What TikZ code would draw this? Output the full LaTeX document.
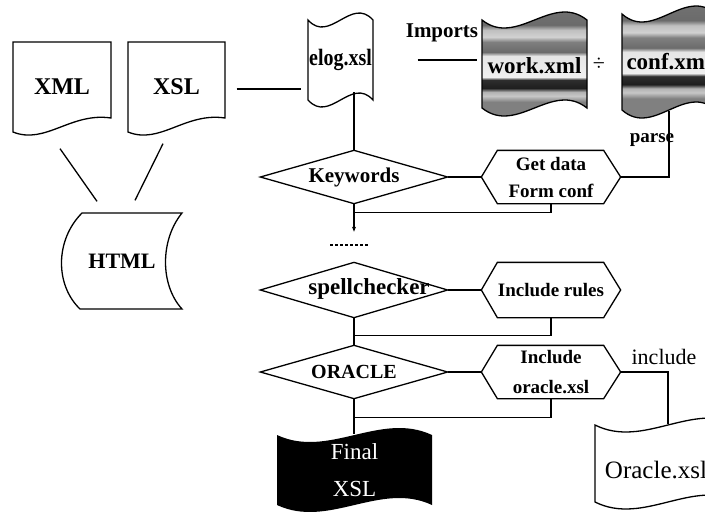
\documentclass[tikz,border=0pt]{standalone}
\usepackage{fontspec}
\setmainfont{Liberation Serif}
\usetikzlibrary{arrows.meta,calc}
\pgfdeclareverticalshading{tapetex}{100bp}{color(0bp)=(black!50); color(34.6bp)=(black!50); color(37.1bp)=(black!22); color(38.75bp)=(black!30); color(40.4bp)=(black!88); color(43.75bp)=(black!82); color(45bp)=(black!6); color(53.75bp)=(black!10); color(55.4bp)=(black!58); color(59.6bp)=(black!50); color(61.7bp)=(black!18); color(64.6bp)=(black!25); color(66.7bp)=(black!58); color(100bp)=(black!45)}
\newcommand{\tapepath}[5]{(#1,#3) .. controls ({#1+(#2-#1)/3},{#3+3.46*#5}) and ({#1+2*(#2-#1)/3},{#3-3.46*#5}) .. (#2,#3) -- (#2,#4) .. controls ({#1+2*(#2-#1)/3},{#4-3.46*#5}) and ({#1+(#2-#1)/3},{#4+3.46*#5}) .. (#1,#4) -- cycle}
\newcommand{\docpath}[5]{(#1,#3) -- (#2,#3) -- (#2,#5) .. controls ({#2-0.41*(#2-#1)},{#5-6}) and ({#1+0.33*(#2-#1)},{#4+13}) .. (#1,#4) -- cycle}
\newcommand{\fsz}[2]{\fontsize{#1pt}{#2pt}\selectfont}
\newcommand{\hexshape}[1]{\draw (#1.west) -- ([xshift=16pt]#1.north west) -- ([xshift=-17pt]#1.north east) -- (#1.east) -- ([xshift=-17pt]#1.south east) -- ([xshift=16pt]#1.south west) -- cycle;}
\newcommand{\diashape}[1]{\draw (#1.west) -- (#1.north) -- (#1.east) -- (#1.south) -- cycle;}
\tikzset{
  box/.style={inner sep=0pt, align=center},
  lbl/.style={inner sep=0pt},
}
\begin{document}
\begin{tikzpicture}[x=1pt,y=-1pt,line width=1.3pt]
\useasboundingbox (0,0) rectangle (705,515);
\clip (0,0) rectangle (705,515);

% XML / XSL documents
\draw \docpath{13}{111}{42}{132}{118};
\draw \docpath{128}{225}{42}{132}{118};
\node[box, font=\bfseries\fsz{24}{28}, minimum width=98, minimum height=90] (xml) at (62,87) {XML};
\node[box, font=\bfseries\fsz{24}{28}, minimum width=97, minimum height=90] (xsl) at (176.5,87) {XSL};

% HTML stored data
\draw (82,213) -- (182,213) .. controls (160,240) and (160,285) .. (182,309) -- (80,309) .. controls (55,285) and (55,240) .. (82,213) -- cycle;
\node[box, font=\bfseries\fsz{22}{24}, minimum width=100, minimum height=96] (html) at (122,261) {HTML};

\draw ($(xml.south)+(-2,16)$) -- ($(html.north)+(-25,-11)$);
\draw ($(xsl.south)+(-13.5,11)$) -- ($(html.north)+(13,-12)$);

% elog.xsl
\draw \tapepath{308}{373}{20}{100}{7};
\node[box, font=\bfseries\fsz{23.5}{26}, minimum width=65, minimum height=80] (elog) at (340.5,60) {\scalebox{0.85}[1]{elog.xsl}};
\draw ($(xsl.east)+(11,2)$) -- ($(elog.west)+(-6,29)$);

% work.xml
\begin{scope}
\clip \tapepath{482}{587}{20}{108}{8};
\shade[shading=tapetex] (480,5) rectangle (590,125);
\end{scope}
\draw \tapepath{482}{587}{20}{108}{8};
\node[box, font=\bfseries\fsz{23}{26}, minimum width=105, minimum height=88] (work) at (534.5,66) {work.xml};

\node[lbl, font=\bfseries\fsz{21}{24}] (imp) at (442,33) {Imports};
\draw ($(elog.east)+(44,0)$) -- ($(work.west)+(-4,-6)$);
\node[lbl, font=\fsz{22}{24}] (plus) at (599,64) {÷};

% conf.xml
\begin{scope}
\clip \tapepath{622}{716}{14}{110}{8};
\shade[shading=tapetex] (620,0) rectangle (720,122);
\end{scope}
\draw \tapepath{622}{716}{14}{110}{8};
\node[box, font=\bfseries\fsz{23}{26}, minimum width=94, minimum height=96] (conf) at (669,62) {conf.xml};
\node[lbl, font=\bfseries\fsz{19}{22}] (parse) at (652,140) {parse};

% Keywords row
\node[box, font=\bfseries\fsz{21}{24}, minimum width=186, minimum height=52] (kw) at (354,177) {Keywords};
\diashape{kw}
\node[box, font=\bfseries\fsz{19}{27}, minimum width=138, minimum height=52] (gd) at (551,177) {Get data\\Form conf};
\hexshape{gd}
\draw (kw.north) -- ++(0,-58);
\draw (kw.east) -- (gd.west);
\draw (conf.south) |- (gd.east);
\draw[-{Stealth[length=5pt,width=4pt]}] (kw.south) -- ++(0,28);
\draw (gd.south) |- ([yshift=-9pt]kw.south);
\draw[line width=1.8pt, dash pattern=on 3pt off 2pt] (330,245) -- (368,245);

% spellchecker row
\node[box, minimum width=186, minimum height=54] (sp) at (354,290) {};
\diashape{sp}
\node[lbl, font=\bfseries\fsz{23}{24}] (spt) at (369,289) {spellchecker};
\node[box, font=\bfseries\fsz{19}{22}, minimum width=138, minimum height=54] (ir) at (551,290) {Include rules};
\hexshape{ir}
\draw (sp.east) -- (ir.west);

% ORACLE row
\node[box, font=\bfseries\fsz{20}{24}, minimum width=186, minimum height=52] (orac) at (354,372) {ORACLE};
\diashape{orac}
\node[box, font=\bfseries\fsz{19}{30}, minimum width=138, minimum height=52] (oi) at (551,372) {Include\\oracle.xsl};
\hexshape{oi}
\draw (sp.south) -- (orac.north);
\draw (ir.south) |- ([yshift=-18pt]sp.south);
\draw (orac.east) -- (oi.west);
\draw (oi.south) |- ([yshift=-19pt]orac.south);

% Final XSL
\fill[black] \tapepath{277}{432}{435}{505}{7};
\node[box, text=white, font=\fsz{23}{37}, minimum width=155, minimum height=70] (final) at (354.5,470) {Final\\XSL};
\draw (orac.south) -- (orac.south |- final.north);

% Oracle.xsl
\filldraw[fill=white] \tapepath{595}{741}{425}{502}{7};
\node[box, minimum width=146, minimum height=77] (ora) at (668,463.5) {};
\node[lbl, font=\fsz{25}{26}] (orat) at (656,470) {Oracle.xsl};
\node[lbl, font=\fsz{22}{24}] (inc) at (664,357) {include};
\draw (oi.east) -| (ora.north);
\end{tikzpicture}
\end{document}
